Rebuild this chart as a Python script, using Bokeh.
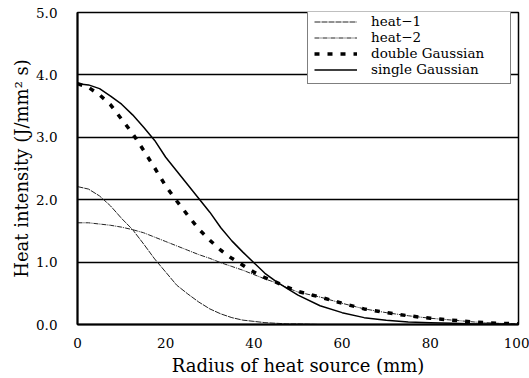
from bokeh.plotting import figure
from bokeh.models import Range1d, FixedTicker, Legend, LegendItem
from bokeh.embed import file_html
from bokeh.resources import INLINE

radius = [0, 2.5, 5, 7.5, 10, 12.5, 15, 17.5, 20, 22.5, 25, 27.5, 30, 32.5, 35,
          37.5, 40, 42.5, 45, 47.5, 50, 55, 60, 65, 70, 75, 80, 85, 90, 95, 100]
heat_1 = [2.21, 2.17, 2.06, 1.90, 1.70, 1.52, 1.29, 1.05, 0.84, 0.63, 0.49, 0.36,
          0.25, 0.17, 0.11, 0.07, 0.05, 0.03, 0.02, 0.01, 0.01, 0.0, 0.0, 0.0,
          0.0, 0.0, 0.0, 0.0, 0.0, 0.0, 0.0]
heat_2 = [1.63, 1.63, 1.61, 1.59, 1.56, 1.52, 1.47, 1.40, 1.33, 1.26, 1.19, 1.12,
          1.06, 0.99, 0.93, 0.87, 0.80, 0.73, 0.67, 0.59, 0.52, 0.44, 0.34, 0.25,
          0.19, 0.14, 0.10, 0.07, 0.04, 0.02, 0.01]
double_gaussian = [3.86, 3.80, 3.68, 3.52, 3.29, 3.06, 2.79, 2.51, 2.22, 1.98,
                   1.75, 1.53, 1.35, 1.19, 1.06, 0.95, 0.84, 0.75, 0.68, 0.60,
                   0.53, 0.44, 0.34, 0.25, 0.19, 0.14, 0.10, 0.07, 0.04, 0.02, 0.01]
single_gaussian = [3.86, 3.84, 3.78, 3.66, 3.53, 3.36, 3.16, 2.95, 2.68, 2.46,
                   2.24, 2.02, 1.80, 1.55, 1.34, 1.16, 0.99, 0.82, 0.69, 0.58,
                   0.47, 0.30, 0.19, 0.11, 0.07, 0.04, 0.03, 0.02, 0.01, 0.01, 0.0]

series_labels = ["heat\u22121", "heat\u22122", "double Gaussian", "single Gaussian"]
x_ticks = [0, 20, 40, 60, 80, 100]
y_ticks = [0, 1, 2, 3, 4, 5]
y_tick_labels = ["0.0", "1.0", "2.0", "3.0", "4.0", "5.0"]
x_label = "Radius of heat source (mm)"
y_label = "Heat intensity (J/mm\u00b2 s)"

FONT = "'DejaVu Serif', 'Liberation Serif', serif"

p = figure(width=529, height=378, output_backend="svg", toolbar_location=None,
           x_range=Range1d(0, 100), y_range=Range1d(0, 5),
           min_border_left=77, min_border_right=11, min_border_top=12,
           min_border_bottom=53)
p.background_fill_color = "white"
p.border_fill_color = "white"
p.outline_line_color = "black"
p.outline_line_width = 1.5

p.xaxis.ticker = FixedTicker(ticks=x_ticks)
p.yaxis.ticker = FixedTicker(ticks=y_ticks)
p.yaxis.major_label_overrides = {t: l for t, l in zip(y_ticks, y_tick_labels)}
for ax in (p.xaxis[0], p.yaxis[0]):
    ax.major_tick_line_color = None
    ax.minor_tick_line_color = None
    ax.axis_line_color = "black"
    ax.axis_line_width = 2
    ax.major_label_text_font = FONT
    ax.major_label_text_font_size = "13.5px"
    ax.major_label_text_color = "black"
    ax.axis_label_text_font = FONT
    ax.axis_label_text_font_size = "18px"
    ax.axis_label_text_font_style = "normal"
    ax.axis_label_text_color = "black"
p.xaxis.axis_label = x_label
p.yaxis.axis_label = y_label
p.xaxis.major_label_standoff = 7
p.yaxis.major_label_standoff = 14
p.xaxis.axis_label_standoff = 4
p.yaxis.axis_label_standoff = 1

p.xgrid.visible = False
p.ygrid.ticker = FixedTicker(ticks=[1, 2, 3, 4])
p.ygrid.grid_line_color = "black"
p.ygrid.grid_line_width = 1.4
p.ygrid.grid_line_alpha = 1.0

r1 = p.line(radius, heat_1, line_color="#222222", line_width=1, line_dash="6 1")
r2 = p.line(radius, heat_2, line_color="#222222", line_width=1, line_dash="5 1 1 1")
r3 = p.line(radius, double_gaussian, line_color="black", line_width=3.5,
            line_dash="5 8")
r4 = p.line(radius, single_gaussian, line_color="black", line_width=1.5)

legend = Legend(items=[LegendItem(label=series_labels[0], renderers=[r1]),
                       LegendItem(label=series_labels[1], renderers=[r2]),
                       LegendItem(label=series_labels[2], renderers=[r3]),
                       LegendItem(label=series_labels[3], renderers=[r4])],
                location=(230, 240), padding=6, spacing=0, margin=0,
                glyph_width=43, glyph_height=15, label_height=15,
                label_standoff=14, label_width=133,
                label_text_font=FONT, label_text_font_size="13.5px",
                label_text_color="black",
                border_line_color="black", border_line_width=1.5,
                background_fill_color="white", background_fill_alpha=1.0)
p.add_layout(legend)

open("out.html", "w").write(file_html(p, INLINE))
